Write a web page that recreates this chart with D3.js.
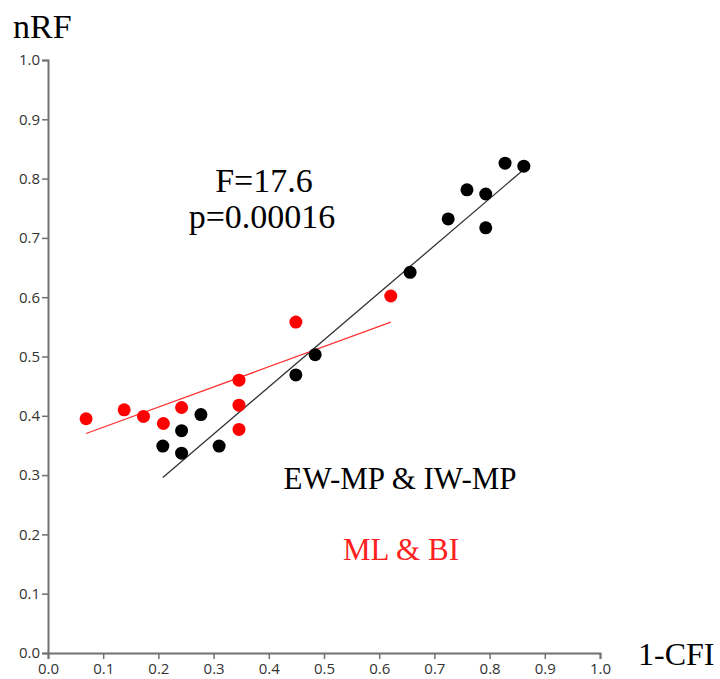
<!DOCTYPE html>
<html>
<head>
<meta charset="utf-8">
<script src="https://cdn.jsdelivr.net/npm/d3@7"></script>
<style>
  body { margin: 0; background: #fff; }
  .lab { font-family: "Liberation Serif", "DejaVu Serif", serif; }
</style>
</head>
<body>
<div id="graph"></div>
<script>
// values
var mpX = [0.208, 0.242, 0.242, 0.277, 0.310, 0.449, 0.484, 0.656, 0.725, 0.793, 0.759, 0.793, 0.828, 0.862];
var mpY = [0.349, 0.375, 0.337, 0.402, 0.349, 0.469, 0.503, 0.642, 0.732, 0.717, 0.781, 0.774, 0.826, 0.821];
var mlX = [0.069, 0.138, 0.173, 0.209, 0.242, 0.346, 0.346, 0.346, 0.449, 0.621];
var mlY = [0.395, 0.410, 0.399, 0.387, 0.414, 0.460, 0.418, 0.377, 0.558, 0.602];
// fitted lines: [intercept, slope]
var mpFit = [0.131, 0.794];
var mlFit = [0.3467, 0.340];
var ticks = [0, 0.1, 0.2, 0.3, 0.4, 0.5, 0.6, 0.7, 0.8, 0.9, 1.0];

var width = 720, height = 679;

var x = d3.scaleLinear().domain([0, 1]).range([48, 600]);
var y = d3.scaleLinear().domain([0, 1]).range([653, 60]);

var svg = d3.select("#graph").append("svg")
    .attr("width", width)
    .attr("height", height);

// axes
var xAxis = svg.append("g")
    .attr("transform", "translate(0,653)")
    .call(d3.axisBottom(x).tickValues(ticks).tickFormat(d3.format(".1f")).tickSize(6).tickSizeOuter(6));
var yAxis = svg.append("g")
    .attr("transform", "translate(48,0)")
    .call(d3.axisLeft(y).tickValues(ticks).tickFormat(d3.format(".1f")).tickSize(6).tickSizeOuter(6));
svg.selectAll(".domain").attr("stroke", "#707070").attr("stroke-width", 2);
svg.selectAll(".tick line").attr("stroke", "#707070").attr("stroke-width", 1.5);
svg.selectAll(".tick text")
    .attr("font-family", "'Open Sans', 'Noto Sans', sans-serif")
    .attr("font-size", 15)
    .attr("fill", "#333");
xAxis.selectAll(".tick text").attr("y", 10);
yAxis.selectAll(".tick text").attr("x", -8);

function fitLine(xs, fit) {
    var ext = d3.extent(xs);
    return ext.map(function(v) { return [v, fit[0] + fit[1] * v]; });
}

var line = d3.line()
    .x(function(d) { return x(d[0]); })
    .y(function(d) { return y(d[1]); });

svg.append("path")
    .datum(fitLine(mpX, mpFit))
    .attr("fill", "none")
    .attr("stroke", "#333")
    .attr("stroke-width", 1.3)
    .attr("d", line);

svg.append("path")
    .datum(fitLine(mlX, mlFit))
    .attr("fill", "none")
    .attr("stroke", "#ff3030")
    .attr("stroke-width", 1.3)
    .attr("d", line);

svg.selectAll(".mp")
    .data(d3.range(mpX.length))
  .enter().append("circle")
    .attr("class", "mp")
    .attr("cx", function(i) { return x(mpX[i]); })
    .attr("cy", function(i) { return y(mpY[i]); })
    .attr("r", 6.5)
    .attr("fill", "#000");

svg.selectAll(".ml")
    .data(d3.range(mlX.length))
  .enter().append("circle")
    .attr("class", "ml")
    .attr("cx", function(i) { return x(mlX[i]); })
    .attr("cy", function(i) { return y(mlY[i]); })
    .attr("r", 6.5)
    .attr("fill", "#ff0000");

// labels
svg.append("text").attr("class", "lab")
    .attr("x", 13).attr("y", 38)
    .attr("font-size", 34)
    .text("nRF");
svg.append("text").attr("class", "lab")
    .attr("x", 638).attr("y", 665)
    .attr("font-size", 32)
    .text("1-CFI");
svg.append("text").attr("class", "lab")
    .attr("x", 264).attr("y", 192)
    .attr("text-anchor", "middle")
    .attr("font-size", 34)
    .text("F=17.6");
svg.append("text").attr("class", "lab")
    .attr("x", 262).attr("y", 228)
    .attr("text-anchor", "middle")
    .attr("font-size", 34)
    .text("p=0.00016");
svg.append("text").attr("class", "lab")
    .attr("x", 400).attr("y", 489)
    .attr("text-anchor", "middle")
    .attr("font-size", 31)
    .text("EW-MP & IW-MP");
svg.append("text").attr("class", "lab")
    .attr("x", 401).attr("y", 560)
    .attr("text-anchor", "middle")
    .attr("font-size", 31)
    .attr("fill", "#ff2020")
    .text("ML & BI");
</script>
</body>
</html>
